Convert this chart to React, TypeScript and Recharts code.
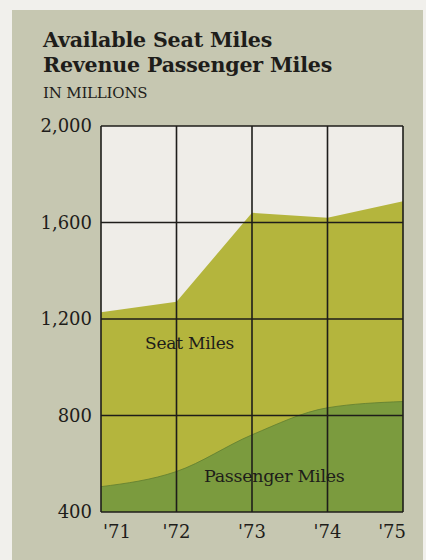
import React from "react"
import { AreaChart, Area, XAxis, YAxis, ReferenceLine } from "recharts"

// years on the x axis
const years = ["'71", "'72", "'73", "'74", "'75"]
// millions of miles
const seatMiles = [1228, 1272, 1640, 1620, 1688]
const passengerMiles = [505, 568, 720, 832, 858]
const yTicks = [400, 800, 1200, 1600, 2000]

const data = years.map((year, i) => ({
  year,
  seat: seatMiles[i],
  passenger: passengerMiles[i],
}))

const SERIF = "'DejaVu Serif', serif"
const INK = "#1e1d1a"

function YearTick(props: any) {
  const { x, y, payload, index } = props
  const anchor = index === 0 ? "start" : index === years.length - 1 ? "end" : "middle"
  const dx = index === 0 ? 2 : index === years.length - 1 ? 3 : 0
  return (
    <text x={x + dx} y={y} dy={18} textAnchor={anchor} fontFamily={SERIF} fontSize={18} fill={INK}>
      {payload.value}
    </text>
  )
}

export default function App() {
  return (
    <div style={{ position: "absolute", left: 0, top: 0, width: 426, height: 560, background: "#f1f0ec", overflow: "hidden" }}>
      <div style={{ position: "absolute", left: 12, top: 10, width: 411, height: 560, background: "#c6c7b1" }} />
      <div style={{ position: "absolute", left: 43, top: 28, fontFamily: SERIF, fontWeight: "bold", fontSize: 20.6, lineHeight: "25px", color: INK, letterSpacing: -0.2 }}>
        Available Seat Miles
        <br />
        Revenue Passenger Miles
      </div>
      <div style={{ position: "absolute", left: 43, top: 84, fontFamily: SERIF, fontSize: 15, color: INK, letterSpacing: -0.2 }}>
        IN MILLIONS
      </div>
      <div style={{ position: "absolute", left: 0, top: 0 }}>
        <AreaChart width={426} height={560} data={data} margin={{ top: 126, right: 23, bottom: 18, left: 41 }}>
          <rect x={101} y={126} width={302} height={386} fill="#efede8" />
          <XAxis dataKey="year" height={30} axisLine={false} tickLine={false} tick={<YearTick />} interval={0} />
          <YAxis
            domain={[400, 2000]}
            ticks={yTicks}
            width={60}
            axisLine={false}
            tickLine={false}
            tickMargin={3}
            tickFormatter={(v: number) => v.toLocaleString("en-US")}
            tick={{ fontFamily: SERIF, fontSize: 18, fill: INK }}
          />
          <Area type="linear" dataKey="seat" stroke="none" fill="#b4b53d" fillOpacity={1} isAnimationActive={false} />
          <Area type="monotone" dataKey="passenger" stroke="#5f7e30" strokeWidth={0.8} fill="#7b9b3e" fillOpacity={1} isAnimationActive={false} />
          {yTicks.map((t) => (
            <ReferenceLine key={`y${t}`} y={t} stroke={INK} strokeWidth={1.6} />
          ))}
          {years.map((yr) => (
            <ReferenceLine key={`x${yr}`} x={yr} stroke={INK} strokeWidth={1.6} />
          ))}
        </AreaChart>
      </div>
      <div style={{ position: "absolute", left: 145, top: 333, fontFamily: SERIF, fontSize: 17, color: INK, letterSpacing: -0.2 }}>
        Seat Miles
      </div>
      <div style={{ position: "absolute", left: 204, top: 466, fontFamily: SERIF, fontSize: 17.5, color: INK, letterSpacing: -0.3 }}>
        Passenger Miles
      </div>
    </div>
  )
}
